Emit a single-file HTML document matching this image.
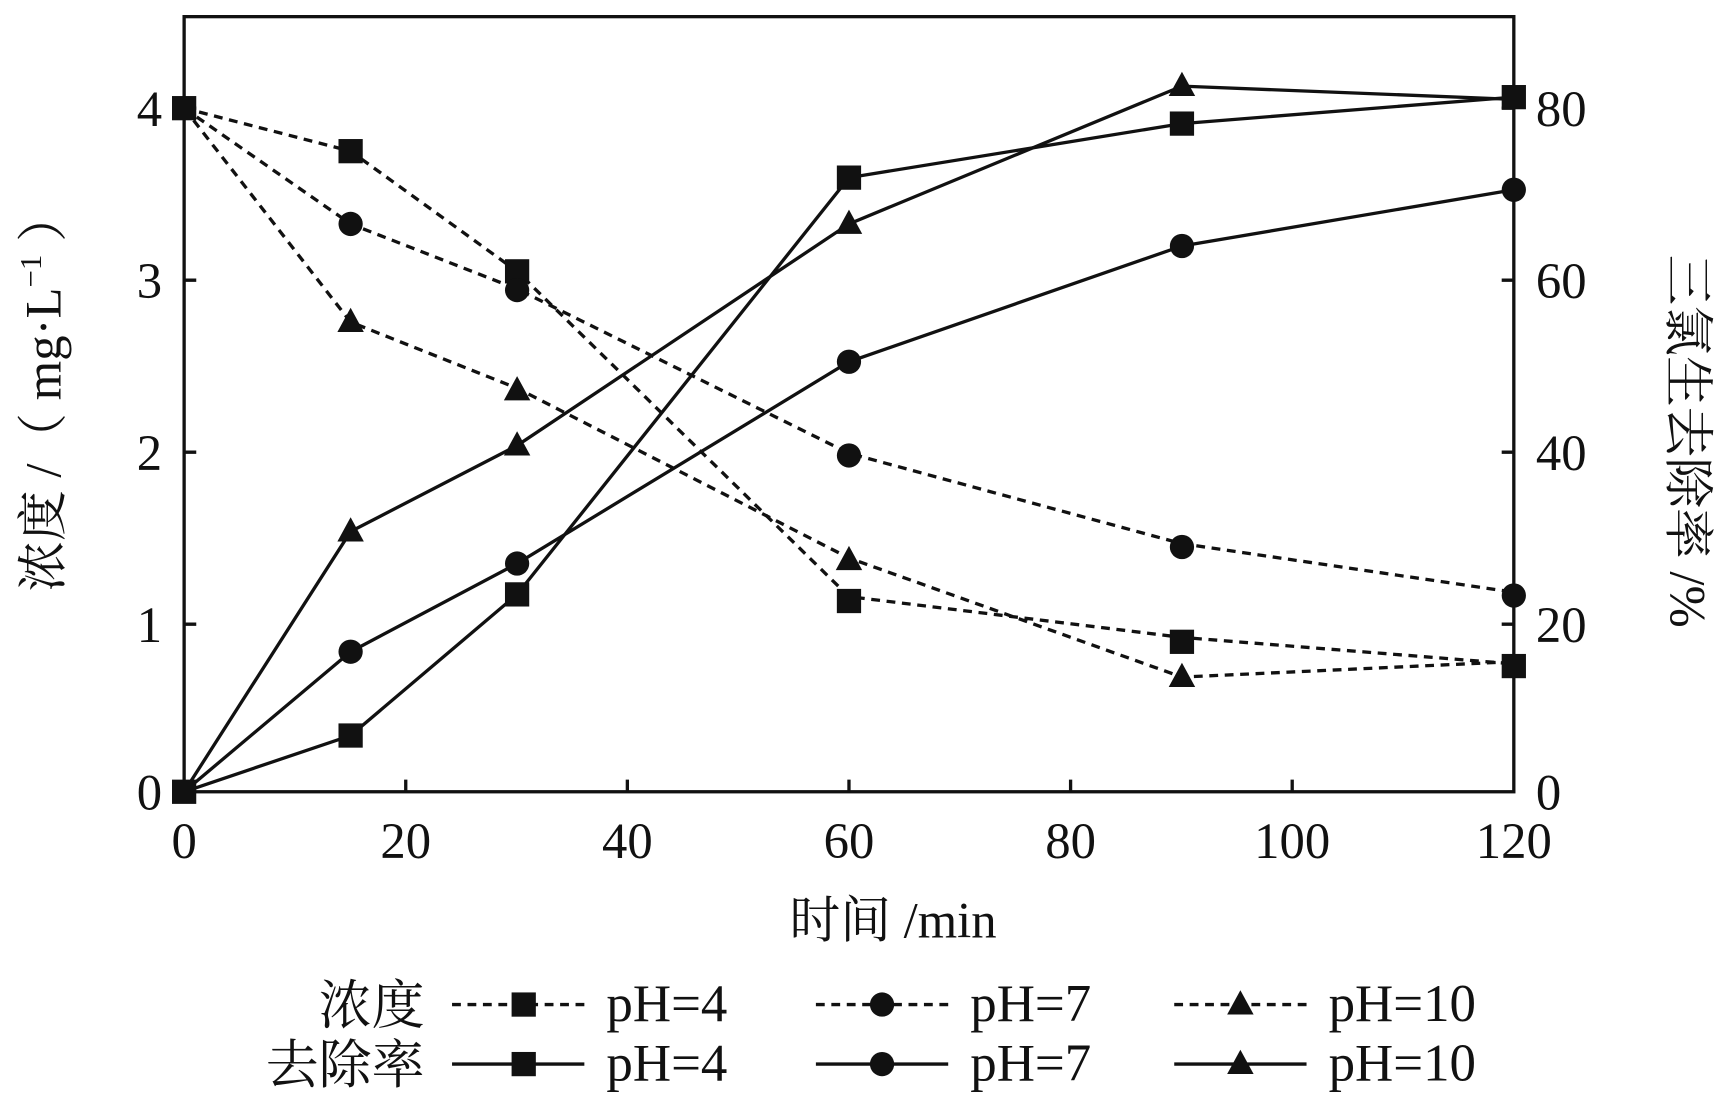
<!DOCTYPE html>
<html><head><meta charset="utf-8"><style>html,body{margin:0;padding:0;background:#fff}svg{display:block}</style></head><body>
<svg width="1720" height="1105" viewBox="0 0 1560 1002" xmlns="http://www.w3.org/2000/svg">
<defs>
<rect id="sq" x="-11" y="-11" width="22" height="22" fill="#111"/>
<circle id="ci" r="11" fill="#111"/>
<polygon id="tr" points="0,-13 12,9 -12,9" fill="#111"/>
</defs>
<g stroke="#111" stroke-width="3" fill="none">
<rect x="167" y="15" width="1206" height="703"/>
<path d="M368 718v-11M569 718v-11M770 718v-11M971 718v-11M1172 718v-11M167 566h11M167 410h11M167 254h11M167 98h11M1373 566h-11M1373 410h-11M1373 254h-11M1373 98h-11"/>
</g>
<g font-family="Liberation Serif, serif" font-size="46" fill="#111">
<g text-anchor="middle">
<text x="167" y="778">0</text><text x="368" y="778">20</text><text x="569" y="778">40</text><text x="770" y="778">60</text><text x="971" y="778">80</text><text x="1172" y="778">100</text><text x="1373" y="778">120</text>
</g>
<g text-anchor="end">
<text x="147" y="734">0</text><text x="147" y="582">1</text><text x="147" y="426">2</text><text x="147" y="270">3</text><text x="147" y="114">4</text>
</g>
<g text-anchor="start">
<text x="1393" y="734">0</text><text x="1393" y="582">20</text><text x="1393" y="426">40</text><text x="1393" y="270">60</text><text x="1393" y="114">80</text>
</g>
<text x="810" y="850" text-anchor="middle" font-family="Liberation Serif, Noto Serif CJK SC, serif">时间 /min</text>
<text transform="translate(55,355) rotate(-90)" text-anchor="middle" font-family="Liberation Serif, Noto Serif CJK SC, serif">浓度 /（ mg·L<tspan font-size="28" dy="-18">−1</tspan><tspan dy="18"> ）</tspan></text>
<text transform="translate(1515,400) rotate(90)" text-anchor="middle" font-family="Liberation Serif, Noto Serif CJK SC, serif">三氯生去除率 /%</text>
<g font-family="Liberation Serif, Noto Serif CJK SC, serif" text-anchor="end" font-size="48">
<text x="385" y="928">浓度</text><text x="385" y="982">去除率</text>
</g>
<g font-size="48">
<text x="550" y="926">pH=4</text><text x="880" y="926">pH=7</text><text x="1205" y="926">pH=10</text>
<text x="550" y="980">pH=4</text><text x="880" y="980">pH=7</text><text x="1205" y="980">pH=10</text>
</g>
</g>
<g stroke="#111" stroke-width="3" fill="none">
<g stroke-dasharray="8,6">
<polyline points="167,98 318,137 469,246 770,541 1072,578 1373,602"/>
<polyline points="167,98 318,203 469,262 770,411 1072,493 1373,537"/>
<polyline points="167,98 318,292 469,352 770,506 1072,614 1373,600"/>
<path d="M410 911h120M740 911h120M1065 911h120"/>
</g>
<polyline points="167,718 318,667 469,539 770,161 1072,112 1373,88"/>
<polyline points="167,718 318,591 469,511 770,328 1072,223 1373,172"/>
<polyline points="167,718 318,482 469,404 770,203 1072,78 1373,90"/>
<path d="M410 965h120M740 965h120M1065 965h120"/>
</g>
<g>
<use href="#sq" x="167" y="98"/><use href="#sq" x="318" y="137"/><use href="#sq" x="469" y="246"/><use href="#sq" x="770" y="545"/><use href="#sq" x="1072" y="582"/><use href="#sq" x="1373" y="604"/>
<use href="#ci" x="318" y="203"/><use href="#ci" x="469" y="263"/><use href="#ci" x="770" y="413"/><use href="#ci" x="1072" y="496"/><use href="#ci" x="1373" y="540"/>
<use href="#tr" x="318" y="292"/><use href="#tr" x="469" y="354"/><use href="#tr" x="770" y="508"/><use href="#tr" x="1072" y="614"/>
<use href="#sq" x="167" y="718"/><use href="#sq" x="318" y="667"/><use href="#sq" x="469" y="539"/><use href="#sq" x="770" y="161"/><use href="#sq" x="1072" y="112"/><use href="#sq" x="1373" y="88"/>
<use href="#ci" x="318" y="591"/><use href="#ci" x="469" y="511"/><use href="#ci" x="770" y="328"/><use href="#ci" x="1072" y="223"/><use href="#ci" x="1373" y="172"/>
<use href="#tr" x="318" y="482"/><use href="#tr" x="469" y="404"/><use href="#tr" x="770" y="203"/><use href="#tr" x="1072" y="78"/>
<use href="#sq" x="475" y="911"/><use href="#ci" x="800" y="911"/><use href="#tr" x="1125" y="911"/>
<use href="#sq" x="475" y="965"/><use href="#ci" x="800" y="965"/><use href="#tr" x="1125" y="965"/>
</g>
</svg>
</body></html>
